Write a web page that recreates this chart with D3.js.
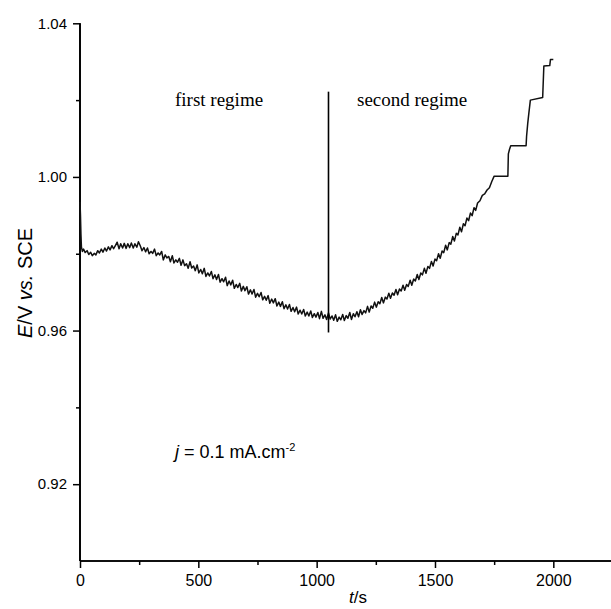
<!DOCTYPE html>
<html>
<head>
<meta charset="utf-8">
<script src="https://cdn.jsdelivr.net/npm/d3@7"></script>
<style>
  body { margin: 0; background: #fff; }
  svg { display: block; }
</style>
</head>
<body>
<div id="chart"></div>
<script>
// time (s) and potential (V vs SCE)
var time_s = [0, 2, 4, 6, 10, 15, 22, 30, 37, 45, 52, 60, 67, 75, 82, 90, 97, 105, 112, 120,
  127, 135, 142, 150, 157, 165, 172, 180, 187, 195, 202, 210, 217, 225, 232, 240, 247, 255, 262, 270,
  277, 285, 292, 300, 307, 315, 322, 330, 337, 345, 352, 360, 367, 375, 382, 390, 397, 405, 412, 420,
  427, 435, 442, 450, 457, 465, 472, 480, 487, 495, 502, 510, 517, 525, 532, 540, 547, 555, 562, 570,
  577, 585, 592, 600, 607, 615, 622, 630, 637, 645, 652, 660, 667, 675, 682, 690, 697, 705, 712, 720,
  727, 735, 742, 750, 757, 765, 772, 780, 787, 795, 802, 810, 817, 825, 832, 840, 847, 855, 862, 870,
  877, 885, 892, 900, 907, 915, 922, 930, 937, 945, 952, 960, 967, 975, 982, 990, 997, 1005, 1012, 1020,
  1027, 1035, 1042, 1050, 1057, 1065, 1072, 1080, 1087, 1095, 1102, 1110, 1117, 1125, 1132, 1140, 1147, 1155, 1162, 1170,
  1177, 1185, 1192, 1200, 1207, 1215, 1222, 1230, 1237, 1245, 1252, 1260, 1267, 1275, 1282, 1290, 1297, 1305, 1312, 1320,
  1327, 1335, 1342, 1350, 1357, 1365, 1372, 1380, 1387, 1395, 1402, 1410, 1417, 1425, 1432, 1440, 1447, 1455, 1462, 1470,
  1477, 1485, 1492, 1500, 1507, 1515, 1522, 1530, 1537, 1545, 1552, 1560, 1567, 1575, 1582, 1590, 1597, 1605, 1612, 1620,
  1627, 1635, 1642, 1650, 1657, 1665, 1672, 1680, 1690, 1700, 1710, 1720, 1730, 1740, 1750, 1808, 1810, 1815, 1820, 1885,
  1887, 1892, 1897, 1903, 1955, 1960, 1985, 1988, 2000]
var potential_V = [0.9935, 0.9900, 0.9850, 0.9818, 0.9806, 0.9812, 0.9803, 0.9808, 0.9798, 0.9804, 0.9795, 0.9801, 0.9797, 0.9808, 0.9802, 0.9812, 0.9804, 0.9815, 0.9807, 0.9818,
  0.9810, 0.9821, 0.9813, 0.9822, 0.9830, 0.9813, 0.9826, 0.9815, 0.9827, 0.9814, 0.9826, 0.9816, 0.9828, 0.9815, 0.9826, 0.9817, 0.9831, 0.9820, 0.9808, 0.9816,
  0.9805, 0.9815, 0.9800, 0.9806, 0.9801, 0.9812, 0.9795, 0.9802, 0.9797, 0.9806, 0.9784, 0.9797, 0.9789, 0.9793, 0.9779, 0.9795, 0.9776, 0.9784, 0.9778, 0.9788,
  0.9770, 0.9784, 0.9769, 0.9774, 0.9762, 0.9779, 0.9763, 0.9768, 0.9756, 0.9771, 0.9750, 0.9759, 0.9748, 0.9762, 0.9741, 0.9750, 0.9742, 0.9754, 0.9735, 0.9745,
  0.9733, 0.9746, 0.9726, 0.9735, 0.9727, 0.9739, 0.9717, 0.9729, 0.9719, 0.9731, 0.9710, 0.9720, 0.9712, 0.9723, 0.9703, 0.9715, 0.9704, 0.9714, 0.9695, 0.9706,
  0.9695, 0.9707, 0.9687, 0.9697, 0.9688, 0.9699, 0.9680, 0.9689, 0.9679, 0.9691, 0.9671, 0.9682, 0.9672, 0.9683, 0.9664, 0.9674, 0.9663, 0.9675, 0.9657, 0.9667,
  0.9656, 0.9668, 0.9650, 0.9660, 0.9649, 0.9661, 0.9643, 0.9653, 0.9643, 0.9655, 0.9638, 0.9648, 0.9638, 0.9651, 0.9634, 0.9644, 0.9635, 0.9647, 0.9631, 0.9650,
  0.9632, 0.9641, 0.9629, 0.9646, 0.9630, 0.9638, 0.9627, 0.9641, 0.9624, 0.9635, 0.9628, 0.9642, 0.9626, 0.9639, 0.9632, 0.9647, 0.9629, 0.9644, 0.9636, 0.9649,
  0.9636, 0.9654, 0.9642, 0.9652, 0.9646, 0.9663, 0.9648, 0.9664, 0.9658, 0.9674, 0.9661, 0.9675, 0.9670, 0.9686, 0.9672, 0.9687, 0.9682, 0.9697, 0.9684, 0.9698,
  0.9692, 0.9707, 0.9693, 0.9708, 0.9703, 0.9718, 0.9705, 0.9720, 0.9715, 0.9731, 0.9718, 0.9734, 0.9729, 0.9746, 0.9733, 0.9750, 0.9745, 0.9762, 0.9749, 0.9767,
  0.9762, 0.9780, 0.9768, 0.9786, 0.9782, 0.9800, 0.9788, 0.9807, 0.9803, 0.9822, 0.9810, 0.9829, 0.9825, 0.9845, 0.9833, 0.9853, 0.9849, 0.9869, 0.9857, 0.9878,
  0.9873, 0.9893, 0.9886, 0.9906, 0.9899, 0.9920, 0.9913, 0.9932, 0.9938, 0.9952, 0.9956, 0.9966, 0.9972, 0.9988, 1.0002, 1.0002, 1.0060, 1.0072, 1.0081, 1.0081,
  1.0106, 1.0140, 1.0168, 1.0200, 1.0207, 1.0289, 1.0290, 1.0306, 1.0306]

var x_ticks = [0, 500, 1000, 1500, 2000]
var x_minor = [250, 750, 1250, 1750]
var y_ticks = [0.92, 0.96, 1.00, 1.04]
var y_minor = [0.94, 0.98, 1.02]

// regime boundary marker
var boundary_t = 1050
var boundary_E = [0.9595, 1.0222]

var width = 611, height = 609
var svg = d3.select("#chart").append("svg")
    .attr("width", width)
    .attr("height", height)

var x = d3.scaleLinear().domain([0, 2245]).range([80, 611.3])
var y = d3.scaleLinear().domain([0.9, 1.04]).range([561, 23.3])

var sans = "'Liberation Sans', Arial, sans-serif"
var serif = "'Liberation Serif', 'Times New Roman', serif"

// x axis with major + minor ticks
var x_axis = svg.append("g")
    .attr("transform", "translate(0," + y(0.9) + ")")
    .call(d3.axisBottom(x).tickValues(x_ticks).tickSize(7).tickPadding(7).tickFormat(d3.format("d")))
x_axis.append("g").call(d3.axisBottom(x).tickValues(x_minor).tickSize(4).tickFormat(""))
x_axis.selectAll(".domain").attr("d", "M80,0H611").attr("stroke-width", 1.7)
x_axis.selectAll(".tick text").style("font-size", "16px")

var y_axis = svg.append("g")
    .attr("transform", "translate(" + x(0) + ",0)")
    .call(d3.axisLeft(y).tickValues(y_ticks).tickSize(7).tickPadding(6).tickFormat(d3.format(".2f")))
y_axis.append("g").call(d3.axisLeft(y).tickValues(y_minor).tickSize(4).tickFormat(""))
y_axis.selectAll(".domain").attr("d", "M0," + y(1.04) + "V" + y(0.9)).attr("stroke-width", 1.7)
y_axis.selectAll(".tick text").style("font-size", "15px")

svg.selectAll(".tick line").attr("stroke", "#000").attr("stroke-width", 1.5)
svg.selectAll(".tick text")
    .attr("fill", "#000")
    .style("font-family", sans)

// the trace
var line = d3.line()
    .x(function(d, i){ return x(time_s[i]) })
    .y(function(d){ return y(d) })
svg.append("path")
    .datum(potential_V)
    .attr("fill", "none")
    .attr("stroke", "#111")
    .attr("stroke-width", 1.5)
    .attr("stroke-linejoin", "round")
    .attr("d", line)

svg.append("line")
    .attr("x1", x(boundary_t)).attr("x2", x(boundary_t))
    .attr("y1", y(boundary_E[0])).attr("y2", y(boundary_E[1]))
    .attr("stroke", "#000")
    .attr("stroke-width", 1.6)

// annotations
svg.append("text")
    .text("first regime")
    .attr("x", 175).attr("y", 106)
    .style("font-family", serif)
    .style("font-size", "19px")
svg.append("text")
    .text("second regime")
    .attr("x", 357).attr("y", 106)
    .style("font-family", serif)
    .style("font-size", "19px")

var j_label = svg.append("text")
    .attr("x", 175).attr("y", 458)
    .style("font-family", sans)
    .style("font-size", "18px")
j_label.append("tspan").text("j").style("font-style", "italic")
j_label.append("tspan").text(" = 0.1 mA.cm")
j_label.append("tspan").text("-2").attr("dy", -7).style("font-size", "11px")

// axis titles
var y_title = svg.append("text")
    .attr("transform", "translate(32,283) rotate(-90)")
    .attr("text-anchor", "middle")
    .style("font-family", sans)
    .style("font-size", "20px")
y_title.append("tspan").text("E").style("font-style", "italic")
y_title.append("tspan").text("/V ")
y_title.append("tspan").text("vs.").style("font-style", "italic")
y_title.append("tspan").text(" SCE")

var x_title = svg.append("text")
    .attr("x", 358).attr("y", 603)
    .attr("text-anchor", "middle")
    .style("font-family", sans)
    .style("font-size", "17px")
x_title.append("tspan").text("t").style("font-style", "italic")
x_title.append("tspan").text("/s")
</script>
</body>
</html>
